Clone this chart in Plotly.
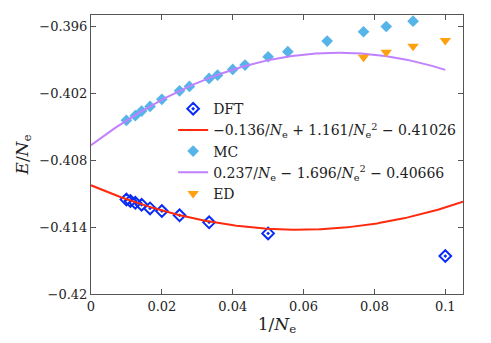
import numpy as np
import plotly.graph_objects as go

# DFT energies per electron
dft_x = [1/100, 1/90, 1/80, 1/70, 1/60, 1/50, 1/40, 1/30, 1/20, 1/10]
dft_y = [-0.41154, -0.41167, -0.41183, -0.41200, -0.41233, -0.41257,
         -0.41295, -0.41358, -0.41457, -0.41660]

# Monte Carlo
mc_x = [1/100, 1/80, 1/70, 1/60, 1/50, 1/40, 1/36, 1/30, 1/28, 1/25, 1/23,
        1/20, 1/18, 1/15, 1/13, 1/12, 1/11]
mc_y = [-0.40444, -0.40402, -0.40361, -0.40319, -0.40256, -0.40179, -0.40140,
        -0.40068, -0.40039, -0.39988, -0.39949, -0.39874, -0.39829, -0.39734,
        -0.39650, -0.39603, -0.39555]

# exact diagonalisation
ed_x = [1/13, 1/12, 1/11, 1/10]
ed_y = [-0.39878, -0.39833, -0.39779, -0.39728]

# fit coefficients (a/N + b/N^2 + c)
dft_fit = [-0.136, 1.161, -0.41026]
mc_fit = [0.237, -1.696, -0.40666]

ne = "<i>N</i><sub>e</sub>"
dft_label = f"−0.136/{ne} + 1.161/{ne}<sup>2</sup> − 0.41026"
mc_label = f"0.237/{ne} − 1.696/{ne}<sup>2</sup> − 0.40666"

serif = "DejaVu Serif"


def fit_curve(c, xmax):
    x = np.linspace(0, xmax, 200)
    return x, c[0] * x + c[1] * x**2 + c[2]


fig = go.Figure()
fig.add_trace(go.Scatter(x=dft_x, y=dft_y, mode="markers", name="DFT",
                         marker=dict(symbol="diamond-open-dot", size=9, color="#0a2cf5",
                                     line=dict(width=2, color="#0a2cf5"))))
fx, fy = fit_curve(dft_fit, 0.105)
fig.add_trace(go.Scatter(x=fx, y=fy, mode="lines", name=dft_label,
                         line=dict(color="#ff2a0e", width=2)))
fig.add_trace(go.Scatter(x=mc_x, y=mc_y, mode="markers", name="MC",
                         marker=dict(symbol="diamond", size=9, color="#56b4e9")))
fx, fy = fit_curve(mc_fit, 0.1)
fig.add_trace(go.Scatter(x=fx, y=fy, mode="lines", name=mc_label,
                         line=dict(color="#c080ff", width=2)))
fig.add_trace(go.Scatter(x=ed_x, y=ed_y, mode="markers", name="ED",
                         marker=dict(symbol="triangle-down", size=10, color="#ffa010")))

axis_common = dict(showgrid=False, zeroline=False, showline=True, mirror="ticks",
                   linecolor="#555555", linewidth=1, ticks="inside", ticklen=5,
                   tickcolor="#555555", automargin=False,
                   tickfont=dict(family=serif, size=13, color="#222222"))

# page has an 8px body margin, so the figure is shrunk by that much
fig.update_layout(
    width=483, height=335,
    margin=dict(l=83, r=28, t=7, b=49),
    paper_bgcolor="white", plot_bgcolor="white",
    font=dict(family=serif, color="#222222"),
    showlegend=True,
    legend=dict(x=0.995, y=0.72, xanchor="right", yanchor="top",
                bgcolor="rgba(0,0,0,0)", font=dict(family=serif, size=14),
                tracegroupgap=0, itemwidth=30),
    xaxis=dict(range=[0, 0.105], tickvals=[0, 0.02, 0.04, 0.06, 0.08, 0.1],
               title=dict(text=f"1/{ne}", font=dict(size=17), standoff=2),
               **axis_common),
    yaxis=dict(range=[-0.42, -0.395],
               tickvals=[-0.42, -0.414, -0.408, -0.402, -0.396],
               title=dict(text=f"<i>E</i>/{ne}", font=dict(size=17), standoff=6),
               **axis_common),
)

fig.write_html("out.html")
